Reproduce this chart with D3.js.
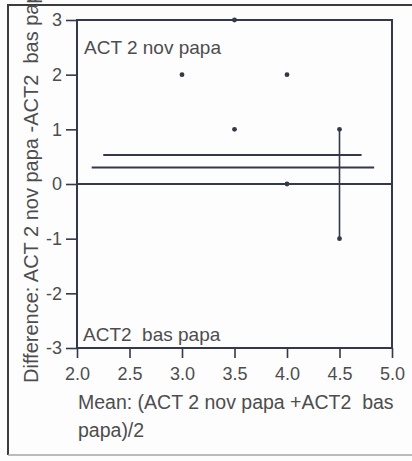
<!DOCTYPE html>
<html>
<head>
<meta charset="utf-8">
<script src="https://cdn.jsdelivr.net/npm/d3@7"></script>
<style>
  html, body { margin: 0; padding: 0; background: #fdfdfd; }
  svg { display: block; }
  text { font-family: "Liberation Sans", Arial, Helvetica, sans-serif; fill: #4d4d4f; white-space: pre; }
</style>
</head>
<body>
<script>
// Mean of the two measurements (x) and their difference (y)
const meanValues = [3.0, 3.5, 3.5, 4.0, 4.0, 4.5, 4.5];
const diffValues = [2, 3, 1, 2, 0, 1, -1];

// Horizontal reference lines: start, end, level
const refStart = [2.25, 2.14, 2.0];
const refEnd   = [4.71, 4.83, 5.0];
const refLevel = [0.53, 0.30, 0.0];

// Vertical segment joining the two points at 4.5
const segX = [4.5];
const segLow = [-1];
const segHigh = [1];

const xTicks = [2.0, 2.5, 3.0, 3.5, 4.0, 4.5, 5.0];
const xTickLabels = ["2.0", "2.5", "3.0", "3.5", "4.0", "4.5", "5.0"];
const yTicks = [3, 2, 1, 0, -1, -2, -3];
const yTickLabels = ["3", "2", "1", "0", "-1", "-2", "-3"];

const topLabel = "ACT 2 nov papa";
const bottomLabel = "ACT2  bas papa";
const yTitle = "Difference: ACT 2 nov papa -ACT2  bas papa";
const xTitleLines = ["Mean: (ACT 2 nov papa +ACT2  bas", "papa)/2"];

const W = 412, H = 461;
const ink = "#33384a";

const svg = d3.select("body").append("svg")
  .attr("width", W).attr("height", H);

// Outer frame of the panel
svg.append("line").attr("x1", 8).attr("x2", 8).attr("y1", 5).attr("y2", 455)
  .attr("stroke", "#3c3c40").attr("stroke-width", 2);
svg.append("line").attr("x1", 7).attr("x2", W).attr("y1", 5).attr("y2", 5)
  .attr("stroke", "#3c3c40").attr("stroke-width", 2);
svg.append("line").attr("x1", 8).attr("x2", W).attr("y1", 455).attr("y2", 455)
  .attr("stroke", "#a5a5a8").attr("stroke-width", 1.5);

const x = d3.scaleLinear().domain([2, 5]).range([77, 392]);
const y = d3.scaleLinear().domain([-3, 3]).range([348, 20]);

// Axes
const yAxis = d3.axisLeft(y).tickValues(yTicks)
  .tickFormat((d, i) => yTickLabels[i]).tickSize(11).tickPadding(4);
const gy = svg.append("g").attr("transform", `translate(${x(2)},0)`).call(yAxis);

const xAxis = d3.axisBottom(x).tickValues(xTicks)
  .tickFormat((d, i) => xTickLabels[i]).tickSize(10).tickPadding(9);
const gx = svg.append("g").attr("transform", `translate(0,${y(-3)})`).call(xAxis);

[gx, gy].forEach(g => {
  g.select(".domain").remove();
  g.selectAll(".tick line").attr("stroke", ink).attr("stroke-width", 1.6);
  g.selectAll(".tick text").style("font-size", "18px")
    .style("font-family", "'Liberation Sans', Arial, sans-serif").attr("fill", "#4d4d4f");
});

// Plot box
svg.append("rect")
  .attr("x", x(2)).attr("y", y(3))
  .attr("width", x(5) - x(2)).attr("height", y(-3) - y(3))
  .attr("fill", "none").attr("stroke", ink).attr("stroke-width", 2);

// Reference lines
svg.append("g").selectAll("line").data(refLevel).join("line")
  .attr("x1", (d, i) => x(refStart[i]))
  .attr("x2", (d, i) => x(refEnd[i]))
  .attr("y1", d => y(d)).attr("y2", d => y(d))
  .attr("stroke", ink).attr("stroke-width", 2);

// Vertical segment
svg.append("g").selectAll("line").data(segX).join("line")
  .attr("x1", d => x(d)).attr("x2", d => x(d))
  .attr("y1", (d, i) => y(segHigh[i])).attr("y2", (d, i) => y(segLow[i]))
  .attr("stroke", ink).attr("stroke-width", 1.6);

// Points
svg.append("g").selectAll("circle").data(meanValues).join("circle")
  .attr("cx", d => x(d))
  .attr("cy", (d, i) => y(diffValues[i]))
  .attr("r", 2.4)
  .attr("fill", ink);

// In-panel labels
svg.append("text").attr("x", 84).attr("y", 54)
  .style("font-size", "19px").text(topLabel);
svg.append("text").attr("x", 83).attr("y", 341)
  .style("font-size", "19px").text(bottomLabel);

// Axis titles
svg.append("text")
  .attr("transform", "translate(38,383) rotate(-90)")
  .style("font-size", "20px").text(yTitle);

svg.append("g").selectAll("text").data(xTitleLines).join("text")
  .attr("x", 78).attr("y", (d, i) => 409 + i * 28)
  .style("font-size", "19.5px").text(d => d);
</script>
</body>
</html>
